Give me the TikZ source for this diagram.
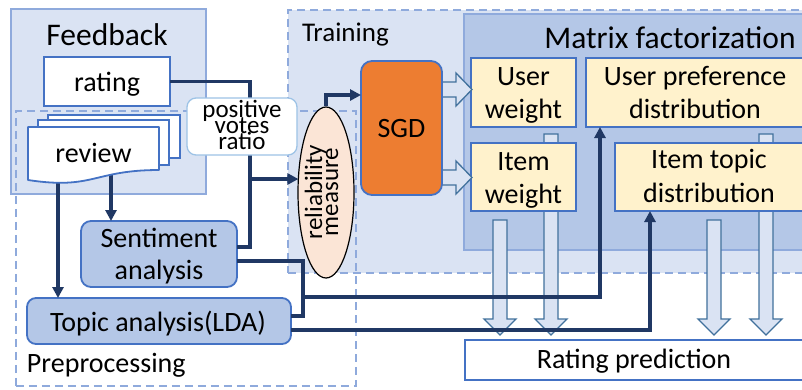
\documentclass[tikz,border=0pt]{standalone}
\usepackage{fontspec}
\setmainfont{Carlito}
\usetikzlibrary{arrows.meta,shapes.geometric}

\definecolor{panelfill}{HTML}{DAE3F3}
\definecolor{panelline}{HTML}{8FAADC}
\definecolor{mffill}{HTML}{B4C7E7}
\definecolor{boxline}{HTML}{4472C4}
\definecolor{paleyellow}{HTML}{FFF2CC}
\definecolor{navy}{HTML}{203864}
\definecolor{steel}{HTML}{41719C}
\definecolor{sgdorange}{HTML}{ED7D31}
\definecolor{peach}{HTML}{FBE5D6}
\definecolor{pvline}{HTML}{9DC3E6}

% small text with lines packed closer than their height
\newcommand\tightlines{\fontsize{25}{16}\selectfont\lineskiplimit=-100pt\relax\lineskip=0pt\relax}

\tikzset{
  panel/.style={draw=panelline, line width=1.6pt},
  dashpanel/.style={draw=panelline, line width=1.6pt, dash pattern=on 8pt off 5pt},
  bluebox/.style={draw=boxline, line width=1.8pt, inner sep=0pt, outer sep=0pt, anchor=north west},
  yellowbox/.style={bluebox, fill=paleyellow},
  procbox/.style={bluebox, fill=mffill, rounded corners=10pt},
  conn/.style={draw=navy, line width=3.4pt},
  tip/.style={-{Triangle[length=11pt,width=11pt]}},
  blockarrow/.style={draw=steel, fill=panelfill, line width=1.3pt, line join=miter},
  txt/.style={inner sep=0pt, outer sep=0pt, anchor=base, font=\fontsize{28}{34}\selectfont},
  bigtxt/.style={txt, font=\fontsize{31.5}{38}\selectfont},
  tighttxt/.style={inner sep=0pt, outer sep=0pt, align=center, font=\tightlines},
}

% downward block arrow: #1 = shaft centre x, #2 = shaft top y
\newcommand\blockdown[2]{%
  \draw[blockarrow] ({#1-7},#2) -- ({#1+7},#2) -- ({#1+7},319) -- ({#1+16},319)
    -- (#1,335) -- ({#1-16},319) -- ({#1-7},319) -- cycle;}
% rightward block arrow out of SGD: #1 = centre y
\newcommand\blockright[1]{%
  \draw[blockarrow] (438,{#1-7.5}) -- (456,{#1-7.5}) -- (456,{#1-16.5}) -- (472,#1)
    -- (456,{#1+16.5}) -- (456,{#1+7.5}) -- (438,{#1+7.5}) -- cycle;}

\begin{document}
\begin{tikzpicture}[x=1pt,y=-1pt]
\useasboundingbox (0,0) rectangle (802,389);
\clip (0,0) rectangle (802,389);
\fill[white] (0,0) rectangle (802,389);

% --- panels ---
\node[panel, fill=panelfill, inner sep=0, minimum width=195pt, minimum height=185pt, anchor=north west] (feedback) at (10,8) {};
\node[bigtxt] (feedbackT) at (107,45) {Feedback};

\node[dashpanel, fill=panelfill, inner sep=0, minimum width=540pt, minimum height=263pt, anchor=north west] (training) at (287,9) {};
\node[txt, anchor=base west, font=\fontsize{27}{32}\selectfont] (trainingT) at (302,41) {Training};

\node[panel, fill=mffill, inner sep=0, minimum width=360pt, minimum height=236pt, anchor=north west] (mf) at (463,13) {};
\node[bigtxt] (mfT) at (670,48) {Matrix factorization};

% --- block arrows towards rating prediction (behind the factor boxes) ---
\blockdown{551}{134}
\blockdown{766}{134}
\blockdown{500}{220}
\blockdown{714}{220}

% --- factor boxes ---
\node[yellowbox, minimum width=105pt, minimum height=69pt] (uw) at (471,58) {};
\node[txt] (uwA) at (523.5,85) {User};
\node[txt] (uwB) at (523.5,118) {weight};

\node[yellowbox, minimum width=105pt, minimum height=68pt] (iw) at (471,143) {};
\node[txt] (iwA) at (523.5,170) {Item};
\node[txt] (iwB) at (523.5,203) {weight};

\node[yellowbox, minimum width=218pt, minimum height=69pt] (upd) at (586,58) {};
\node[txt] (updA) at (695,85) {User preference};
\node[txt] (updB) at (695,118) {distribution};

\node[yellowbox, minimum width=189pt, minimum height=68pt] (itd) at (615,143) {};
\node[txt] (itdA) at (709,168) {Item topic};
\node[txt] (itdB) at (709,202) {distribution};

% --- preprocessing frame ---
\node[dashpanel, inner sep=0, minimum width=340pt, minimum height=275pt, anchor=north west] (prep) at (15,110) {};
\node[txt, anchor=base west] (prepT) at (27,372) {Preprocessing};

% --- feedback contents ---
\node[bluebox, fill=white, minimum width=126pt, minimum height=49pt] (rating) at (44,57) {};
\node[txt] (ratingT) at (107,91) {rating};

% review -> analysis connectors start under the document stack
\coordinate (r1) at (58,178);
\coordinate (r2) at (111,172);

\node[procbox, minimum width=156pt, minimum height=66pt] (sent) at (81,221) {};
\node[txt] (sentA) at (159,247) {Sentiment};
\node[txt] (sentB) at (159,279) {analysis};

\node[procbox, rounded corners=9pt, minimum width=264pt, minimum height=46pt] (topic) at (27,298) {};
\node[txt] (topicT) at (158,331) {Topic analysis(LDA)};

\draw[conn, tip] (r1) -- (r1 |- topic.north);
\draw[conn, tip] (r2) -- (r2 |- sent.north);

% stacked review documents
\draw[draw=boxline, line width=1.8pt, fill=white] (48,115) rectangle (180,158);
\draw[draw=boxline, line width=1.8pt, fill=white] (38,120) rectangle (169,165);
\draw[draw=boxline, line width=1.8pt, fill=white, line join=round]
  (28,127) -- (159,127) -- (159,170) .. controls (93.5,170) and (93.5,190) .. (28,180) -- cycle;
\node[txt] (reviewT) at (93.5,162) {review};

% --- connectors ---
\coordinate (j1) at (250,247);
\coordinate (j2) at (250,179);
\coordinate (e1) at (298.4,179);
\coordinate (k1) at (326,95);
\coordinate (jA) at (303,297);

\draw[conn] (rating.east) -| (j1) -- (sent.east |- j1);
\draw[conn, tip] (j2) -- (e1);
\draw[conn] ([yshift=-7pt]sent.east) -| (jA);
\draw[conn] ([yshift=5pt]topic.east) -| (jA);
\draw[conn, tip] (jA) -| ([xshift=14pt]upd.south west);
\draw[conn, tip] ([yshift=-9pt]topic.east) -| ([xshift=35pt]itd.south west);

% positive votes ratio label sits on the vertical line
\node[draw=pvline, fill=white, line width=1.3pt, rounded corners=9pt, inner sep=0, minimum width=110pt, minimum height=57pt] (pv) at (242,126.5) {};
\node[tighttxt] (pvT) at (242,125) {positive\\votes\\ratio};

% reliability measure
\node[ellipse, draw=black, fill=peach, line width=1.2pt, inner sep=0, minimum width=56pt, minimum height=171pt] (ell) at (326,192.5) {};
\node[tighttxt, rotate=90] (ellT) at (321.5,192) {reliability\\measure};

% SGD
\blockright{89.5}
\blockright{177.5}
\node[bluebox, fill=sgdorange, rounded corners=11pt, minimum width=81pt, minimum height=134pt] (sgd) at (361,61) {};
\node[txt] (sgdT) at (401.5,137) {SGD};

\draw[conn, tip] (ell.north) -- (k1) -- (sgd.west |- k1);

% rating prediction
\node[bluebox, fill=white, minimum width=345pt, minimum height=40pt] (rp) at (465,340) {};
\node[txt] (rpT) at (634,368) {Rating prediction};

\end{tikzpicture}
\end{document}
